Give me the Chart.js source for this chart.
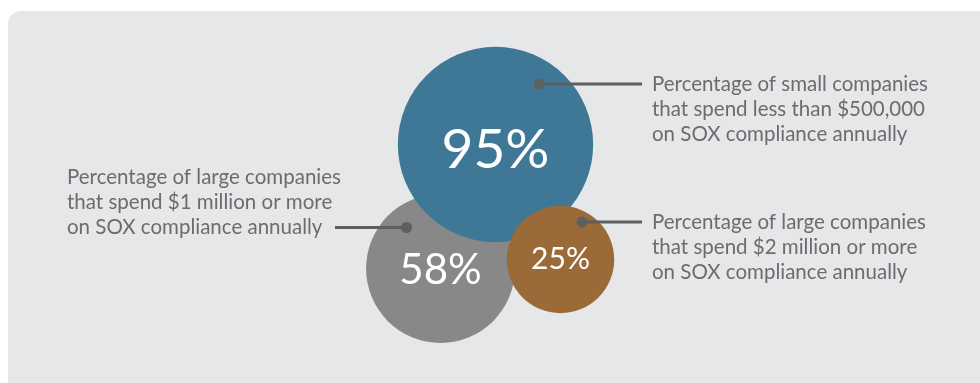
<!DOCTYPE html>
<html>
<head>
<meta charset="utf-8">
<script src="https://cdn.jsdelivr.net/npm/chart.js@4.4.0/dist/chart.umd.min.js"></script>
<style>
  html, body { margin: 0; padding: 0; background: #ffffff; }
  #wrap { position: relative; width: 980px; height: 383px; overflow: hidden; }
  #panel { position: absolute; left: 8px; top: 11px; width: 990px; height: 384px;
           background: #e6e7e9; border-radius: 13px; }
  #myChart { position: absolute; left: 0; top: 0; }
</style>
</head>
<body>
<div id="wrap">
  <div id="panel"></div>
  <canvas id="myChart" width="980" height="383"></canvas>
</div>
<script>
// the three figures, drawn back to front
var values = [58, 95, 25];
var valueLabels = ['58%', '95%', '25%'];
var captions = [
  ['Percentage of large companies', 'that spend $1 million or more', 'on SOX compliance annually'],
  ['Percentage of small companies', 'that spend less than $500,000', 'on SOX compliance annually'],
  ['Percentage of large companies', 'that spend $2 million or more', 'on SOX compliance annually']
];
var colors = ['#888888', '#3e7896', '#9a6a38'];

// layout only (axis units = pixels of the page)
var centerX = [440.5, 495.5, 560.5];
var centerY = [268.5, 144.5, 259.5];
var dotDX = [-0.456, 0.446, 0.40];   // dot position as share of radius
var dotDY = [-0.551, -0.62, -0.70];
var labelDY = [2, 6, 0];
var side = ['left', 'right', 'right'];
var textFont = '20.5px Lato';
var textColor = '#6b6c6e';
var lineColor = '#5e5f61';

function radiusFor(v) { return 38 + 0.628 * v; }

var points = values.map(function (v, i) {
  return { x: centerX[i], y: centerY[i], r: radiusFor(v) };
});

var labelPlugin = {
  id: 'labels',
  afterDatasetsDraw: function (chart) {
    var ctx = chart.ctx;
    var meta = chart.getDatasetMeta(0);
    ctx.save();
    meta.data.forEach(function (el, i) {
      var r = el.options.radius;
      var dx = el.x + dotDX[i] * r;
      var dy = el.y + dotDY[i] * r;

      // leader line and dot
      ctx.strokeStyle = lineColor;
      ctx.lineWidth = 3;
      ctx.beginPath();
      if (side[i] === 'right') { ctx.moveTo(dx, dy); ctx.lineTo(642, dy); }
      else { ctx.moveTo(335, dy); ctx.lineTo(dx, dy); }
      ctx.stroke();
      ctx.fillStyle = lineColor;
      ctx.beginPath();
      ctx.arc(dx, dy, 5.5, 0, Math.PI * 2);
      ctx.fill();

      // caption
      ctx.font = textFont;
      ctx.fillStyle = textColor;
      ctx.textAlign = 'left';
      ctx.textBaseline = 'middle';
      var lines = captions[i];
      var tx = side[i] === 'right' ? 652 : 67;
      var first = side[i] === 'right' ? dy : dy - 25 * (lines.length - 1);
      lines.forEach(function (t, k) { ctx.fillText(t, tx, first + 25 * k); });

      // value inside the bubble
      ctx.fillStyle = '#ffffff';
      ctx.textAlign = 'center';
      ctx.font = '400 ' + Math.round(r * 0.565) + 'px Lato';
      ctx.fillText(valueLabels[i], el.x, el.y + labelDY[i]);
    });
    ctx.restore();
  }
};

var ctx = document.getElementById('myChart');
var myChart = new Chart(ctx, {
  type: 'bubble',
  data: {
    datasets: [{
      data: points,
      backgroundColor: colors,
      borderWidth: 0,
      hoverBorderWidth: 0,
      clip: false
    }]
  },
  options: {
    responsive: false,
    animation: false,
    layout: { padding: 0, autoPadding: false },
    plugins: { legend: { display: false }, tooltip: { enabled: false } },
    scales: {
      x: { type: 'linear', min: 0, max: 980, display: false },
      y: { type: 'linear', min: 0, max: 383, reverse: true, display: false }
    }
  },
  plugins: [labelPlugin]
});
</script>
</body>
</html>
